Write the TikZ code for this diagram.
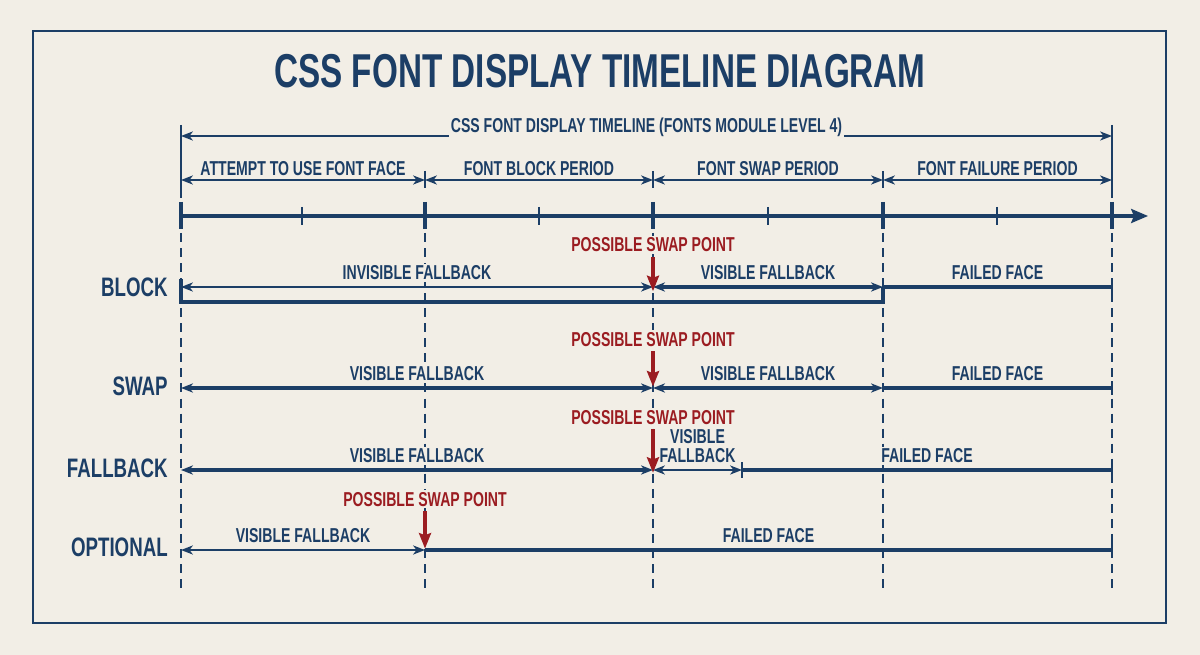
\documentclass[tikz,border=0pt]{standalone}
\usepackage{fontspec}
\setmainfont{Liberation Sans}[FakeStretch=0.7]
\usetikzlibrary{arrows.meta}
\definecolor{navy}{HTML}{1C3E66}
\definecolor{swapred}{HTML}{9B1C21}
\definecolor{paper}{HTML}{F2EEE6}
\tikzset{
    dimtip/.tip={Stealth[length=8.5pt,width=6.5pt,inset=2.5pt]},
    axistip/.tip={Stealth[length=12pt,width=10pt,inset=2pt]},
    redtip/.tip={Stealth[length=11pt,width=8.5pt,inset=1.5pt]},
    lbl/.style={font=\bfseries\fontsize{14.3}{12}\selectfont,text=navy,inner sep=1.5pt,fill=paper},
    seglbl/.style={lbl,anchor=base,yshift=5pt},
    phlbl/.style={lbl,anchor=base,yshift=3.5pt},
    swaplbl/.style={lbl,text=swapred,anchor=base},
    rowlbl/.style={font=\bfseries\fontsize{19}{21}\selectfont,text=navy,anchor=east,inner sep=0pt},
    titlelbl/.style={font=\bfseries\fontsize{33.8}{36}\selectfont,text=navy,inner sep=0pt},
    dim/.style={navy,line width=1.1pt,dimtip-dimtip},
    thickdim/.style={navy,line width=2.2pt,dimtip-dimtip},
    span/.style={navy,line width=2.2pt},
    ext/.style={navy,line width=1pt},
    guide/.style={navy,line width=1.3pt,dash pattern=on 6.4pt off 4.3pt},
    swaparrow/.style={swapred,line width=2.4pt,-redtip,shorten <=2pt},
}
\begin{document}
\begin{tikzpicture}[x=0.025cm,y=-0.025cm]
    \fill[paper] (0,0) rectangle (1200,655);
    \draw[navy,line width=1.8pt] (33,31) rectangle (1166,623);
    \node[titlelbl] (title) at (600,71) {CSS FONT DISPLAY TIMELINE DIAGRAM};

    % phase boundaries
    \foreach \i/\x in {0/181,1/425,2/653,3/883,4/1112}
    {
        \coordinate (ph\i) at (\x,180);
        \coordinate (ax\i) at (\x,216);
        \coordinate (gd\i) at (\x,233);
        \coordinate (ge\i) at (\x,588);
        \draw[guide] (gd\i) -- (ge\i);
    }
    \foreach \r/\y in {blk/287,swp/388,fbk/470,opt/550}
    {
        \foreach \i/\x in {0/181,1/425,2/653,3/883,4/1112}
        {
            \coordinate (\r\i) at (\x,\y);
        }
    }
    \coordinate (fbkv) at (742,470);
    \coordinate (blklow0) at (181,302);
    \coordinate (blklow3) at (883,302);

    % overall timeline
    \coordinate (tl0) at (181,136);
    \coordinate (tl4) at (1112,136);
    \draw[ext] (tl0) ++(0,-11) -- ++(0,73);
    \draw[ext] (tl4) ++(0,-11) -- ++(0,73);
    \draw[dim] (tl0) -- node[phlbl,yshift=-0.7pt] (tllbl) {CSS FONT DISPLAY TIMELINE (FONTS MODULE LEVEL 4)} (tl4);

    % periods
    \foreach \a/\b/\t in {0/1/ATTEMPT TO USE FONT FACE,1/2/FONT BLOCK PERIOD,2/3/FONT SWAP PERIOD,3/4/FONT FAILURE PERIOD}
    {
        \draw[dim] (ph\a) -- node[phlbl] (phl\a) {\t} (ph\b);
    }
    \foreach \i in {1,2,3}
    {
        \draw[ext] (ph\i) ++(0,-9) -- ++(0,17);
    }

    % time axis
    \coordinate (axend) at (1148,216);
    \draw[navy,line width=2.2pt,-axistip] (ax0) -- (axend);
    \foreach \i in {0,...,4}
    {
        \draw[navy,line width=2.8pt] (ax\i) ++(0,-14) -- ++(0,27);
    }
    \foreach \x in {302,539,768,997}
    {
        \draw[navy,line width=1.1pt] (\x,207) -- (\x,225);
    }

    % block
    \node[rowlbl] (blkname) at (168,287) {BLOCK};
    \draw[dim] (blk0) -- node[seglbl] (blkinv) {INVISIBLE FALLBACK} (blk2);
    \draw[thickdim] (blk2) -- node[seglbl] (blkvis) {VISIBLE FALLBACK} (blk3);
    \draw[span] (blk3) -- node[seglbl] (blkfail) {FAILED FACE} (blk4);
    \draw[ext,line width=1.4pt] (blk4) ++(0,-7) -- ++(0,14);
    \draw[span] (blk0) ++(0,-8) -- (blklow0) -- (blklow3) -- (blk3);
    \node[swaplbl] (blksw) at (653,252) {POSSIBLE SWAP POINT};
    \draw[swaparrow] (blksw.south) -- ([yshift=-3pt]blk2);

    % swap
    \node[rowlbl] (swpname) at (168,386) {SWAP};
    \draw[thickdim] (swp0) -- node[seglbl] (swpvis) {VISIBLE FALLBACK} (swp2);
    \draw[thickdim] (swp2) -- node[seglbl] (swpvis2) {VISIBLE FALLBACK} (swp3);
    \draw[span] (swp3) -- node[seglbl] (swpfail) {FAILED FACE} (swp4);
    \draw[ext,line width=1.4pt] (swp4) ++(0,-7) -- ++(0,14);
    \node[swaplbl] (swpsw) at (653,346) {POSSIBLE SWAP POINT};
    \draw[swaparrow] (swpsw.south) -- ([yshift=1pt]swp2);

    % fallback
    \node[rowlbl] (fbkname) at (168,468) {FALLBACK};
    \draw[thickdim] (fbk0) -- node[seglbl] (fbkvis) {VISIBLE FALLBACK} (fbk2);
    \draw[dim] (fbk2) -- node[lbl,font=\bfseries\fontsize{14.3}{13.5}\selectfont,inner sep=0.5pt,align=center,anchor=south,yshift=4pt] (fbkvis2) {VISIBLE\\FALLBACK} (fbkv);
    \draw[span] (fbkv) -- node[seglbl] (fbkfail) {FAILED FACE} (fbk4);
    \draw[ext,line width=1.4pt] (fbkv) ++(0,-8) -- ++(0,16);
    \draw[ext,line width=1.4pt] (fbk4) ++(0,-7) -- ++(0,14);
    \node[swaplbl] (fbksw) at (653,424) {POSSIBLE SWAP POINT};
    \draw[swaparrow] (fbksw.south) -- ([yshift=-2pt]fbk2);

    % optional
    \node[rowlbl] (optname) at (168,547) {OPTIONAL};
    \draw[dim] (opt0) -- node[seglbl] (optvis) {VISIBLE FALLBACK} (opt1);
    \draw[span] (opt1) -- node[seglbl] (optfail) {FAILED FACE} (opt4);
    \draw[ext,line width=1.4pt] (opt4) ++(0,-7) -- ++(0,14);
    \node[swaplbl] (optsw) at (425,506) {POSSIBLE SWAP POINT};
    \draw[swaparrow] (optsw.south) -- ([yshift=1pt]opt1);
\end{tikzpicture}
\end{document}
